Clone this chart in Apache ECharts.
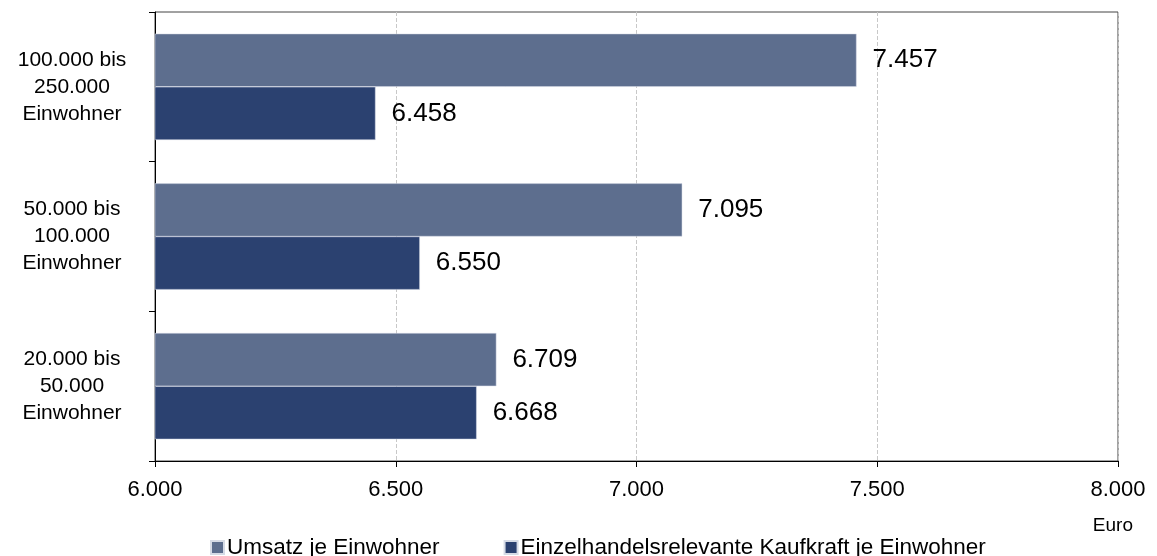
<!DOCTYPE html>
<html lang="de">
<head>
	<meta charset="UTF-8">
	<title>Umsatz und Kaufkraft je Einwohner</title>
	<script src="https://cdn.jsdelivr.net/npm/echarts@6/dist/echarts.min.js"></script>
	<style>
		html, body { margin: 0; padding: 0; background: #fff; }
		#chart { width: 1157px; height: 556px; }
	</style>
</head>
<body>
	<div id="chart"></div>
	<script>
		// Daten (von unten nach oben)
		var categories = ['20.000 bis\n50.000\nEinwohner', '50.000 bis\n100.000\nEinwohner', '100.000 bis\n250.000\nEinwohner'];
		var umsatz = [6709, 7095, 7457];
		var kaufkraft = [6668, 6550, 6458];
		var seriesNames = ['Umsatz je Einwohner', 'Einzelhandelsrelevante Kaufkraft je Einwohner'];

		var FONT = '"Liberation Sans", Arial, sans-serif';

		function fmt(v) {
			return String(v).replace(/\B(?=(\d{3})+(?!\d))/g, '.');
		}

		var barLabel = {
			show: true,
			position: 'right',
			distance: 16,
			color: '#000',
			fontSize: 26,
			fontFamily: FONT,
			formatter: function (p) { return fmt(p.value); }
		};

		var chart = echarts.init(document.getElementById('chart'));
		chart.setOption({
			animation: false,
			textStyle: { fontFamily: FONT },
			grid: {
				left: 155, right: 39, top: 12, bottom: 95,
				show: true, borderColor: '#444', borderWidth: 1
			},
			legend: {
				data: seriesNames,
				left: 205, top: 531,
				itemWidth: 13, itemHeight: 13, itemGap: 64,
				icon: 'rect',
				textStyle: { fontSize: 22.5, color: '#000', fontFamily: FONT, padding: [0, 0, 0, -2] }
			},
			graphic: [{
				type: 'text', right: 24, top: 516,
				style: { text: 'Euro', fill: '#000', fontSize: 19, fontFamily: FONT }
			}],
			xAxis: {
				type: 'value',
				min: 6000, max: 8000, interval: 500,
				axisLine: { show: true, lineStyle: { color: '#000' } },
				axisTick: { show: true, length: 6, lineStyle: { color: '#000' } },
				axisLabel: { color: '#000', fontSize: 22, margin: 18, formatter: fmt },
				splitLine: { show: true, lineStyle: { color: '#c8c8c8', type: 'dashed', width: 1 } }
			},
			yAxis: {
				type: 'category',
				data: categories,
				axisLine: { show: true, lineStyle: { color: '#000' } },
				axisTick: { show: true, length: 6, lineStyle: { color: '#000' } },
				axisLabel: { color: '#000', fontSize: 21, lineHeight: 27, align: 'center', margin: 83 }
			},
			series: [{
				name: seriesNames[0],
				type: 'bar',
				data: umsatz,
				barGap: '0%',
				barCategoryGap: '29%',
				itemStyle: { color: '#5d6e8e', borderColor: '#d6dbe6', borderWidth: 0.5 },
				label: barLabel
			}, {
				name: seriesNames[1],
				type: 'bar',
				data: kaufkraft,
				barGap: '0%',
				barCategoryGap: '29%',
				itemStyle: { color: '#2b4170', borderColor: '#d6dbe6', borderWidth: 0.5 },
				label: barLabel
			}]
		});
	</script>
</body>
</html>
